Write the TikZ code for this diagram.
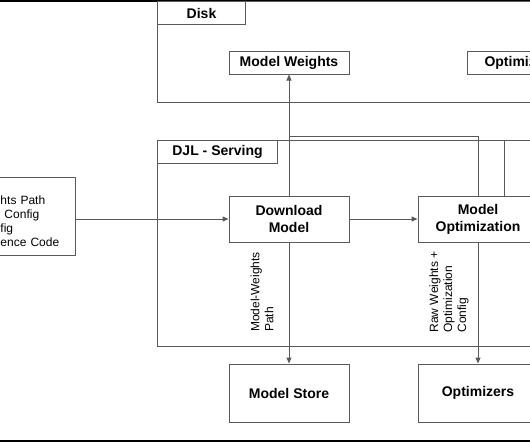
\documentclass[tikz,border=0pt]{standalone}
\usepackage{fontspec}
\setmainfont{Liberation Sans}
\usepackage{xcolor}
\usepackage{tikz}
\usetikzlibrary{arrows.meta}
\definecolor{linegray}{HTML}{5A5A5A}
\tikzset{
  box/.style={draw=linegray, line width=1pt, fill=white, minimum width=120pt, minimum height=46pt, inner sep=0pt, align=center, font=\fontsize{14}{17}\selectfont\bfseries},
  lbl/.style={box, minimum height=23pt},
  note/.style={font=\fontsize{12}{14}\selectfont, align=left, rotate=90, inner sep=0pt},
  flow/.style={draw=linegray, line width=1pt, -{Triangle[length=6pt,width=5pt]}},
  wire/.style={draw=linegray, line width=1pt},
}
\begin{document}
\begin{tikzpicture}[x=1pt,y=-1pt]
\useasboundingbox (0,0) rectangle (530,442);
\draw[line width=2pt] (0,1)--(530,1);
\draw[line width=2pt] (0,440.5)--(530,440.5);

\draw[wire] (157,1) rectangle (545,102);
\node[lbl, minimum width=88pt, anchor=north west] (disk) at (157,1) {Disk};
\node[lbl] (mw) at (289,62.5) {Model Weights};
\node[lbl, anchor=west, minimum width=0pt, inner xsep=17pt] (optw) at (467,62.5) {Optimiz};

\draw[wire] (157,140) rectangle (545,346);
\coordinate (djltop) at (530,140);
\node[lbl, anchor=north west] (djl) at (157,140) {DJL - Serving};
\node[box] (dl) at (289,219) {Download\\Model};
\node[box] (mopt) at (478,219) {Model\\Optimization};
\node[box, minimum height=58pt] (store) at (289,393) {Model Store};
\node[box, minimum height=58pt] (optz) at (478,393) {Optimizers};

\node[draw=linegray, line width=1pt, anchor=east, minimum height=78pt, text width=72pt, text height=19pt, inner xsep=3pt, align=left, font=\fontsize{12}{14}\selectfont] (inp) at (76,216) {hts Path\\\hspace*{4pt}Config\\fig\\ence Code};
\coordinate (merge) at (289,136);

\draw[flow] (inp.east |- dl) -- (dl);
\draw[flow] (dl) -- (mopt);
\draw[flow] (dl) -- (mw);
\draw[wire] (mopt.north) |- (merge);
\draw[wire] ([xshift=26pt]mopt.north) |- (djltop);
\draw[flow] (dl) -- (store);
\draw[flow] (mopt) -- (optz);
\node[note] (wpath) at (262,292) {Model-Weights\\Path};
\node[note] (rawcfg) at (449,292) {Raw Weights +\\Optimization\\Config};
\end{tikzpicture}
\end{document}
